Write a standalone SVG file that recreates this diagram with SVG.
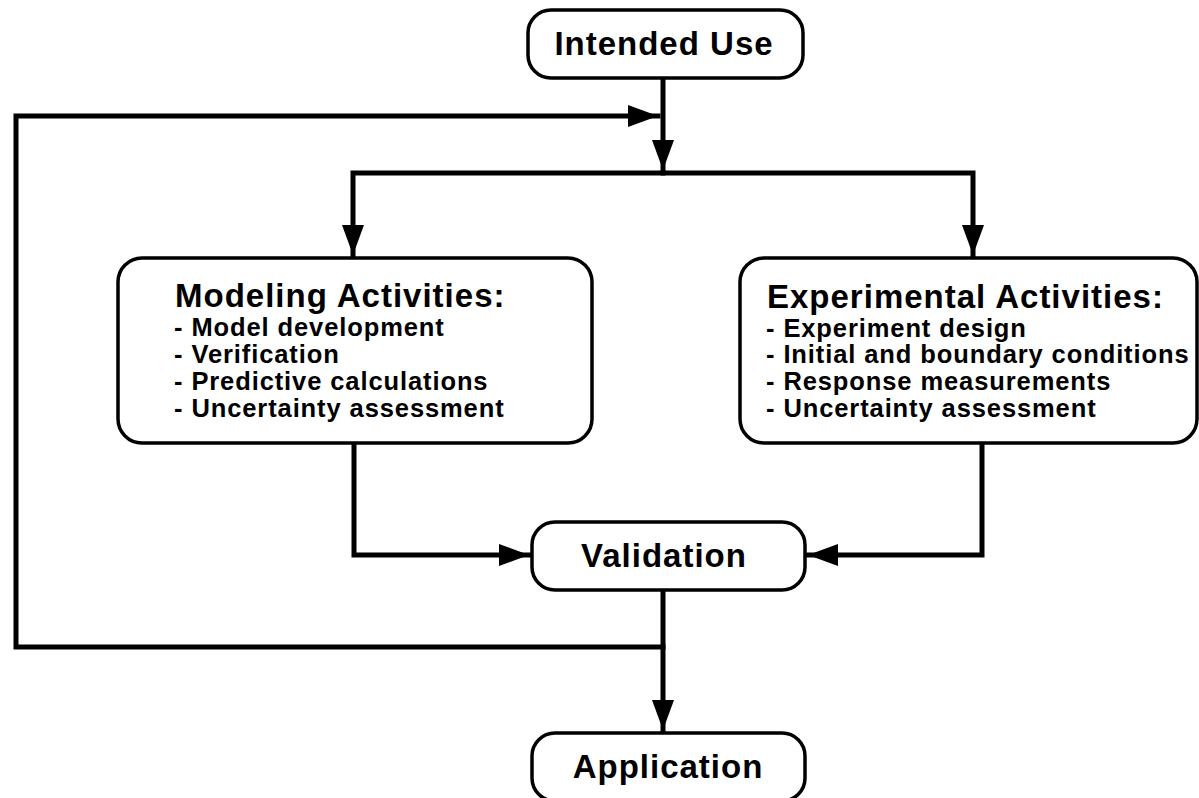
<svg xmlns="http://www.w3.org/2000/svg" width="1199" height="798" viewBox="0 0 1199 798">
<style>
.box{fill:#fff;stroke:#000;stroke-width:3.5}
.con{fill:none;stroke:#000;stroke-width:5;stroke-linejoin:miter;stroke-linecap:square}
.big{font-family:"Liberation Sans",Arial,sans-serif;font-weight:bold;font-size:33px;letter-spacing:1px;fill:#000}
.item{font-family:"Liberation Sans",Arial,sans-serif;font-weight:bold;font-size:25.5px;letter-spacing:0.9px;fill:#000}
</style>
<defs>
<marker id="arr" markerUnits="userSpaceOnUse" markerWidth="32" markerHeight="24" refX="30" refY="11" orient="auto" viewBox="0 0 32 24">
<path d="M0,0 L30,11 L0,22 Z" fill="#000"/>
</marker>
</defs>
<rect width="1199" height="798" fill="#fff"/>
<g id="connectors">
<path class="con" d="M663,79 V170" marker-end="url(#arr)"/>
<path class="con" d="M663,647 H16 V116 H658" marker-end="url(#arr)"/>
<path class="con" d="M663,173 H353 V255" marker-end="url(#arr)"/>
<path class="con" d="M663,173 H973 V255" marker-end="url(#arr)"/>
<path class="con" d="M354,444 V555 H529" marker-end="url(#arr)"/>
<path class="con" d="M982,444 V555 H808" marker-end="url(#arr)"/>
<path class="con" d="M663,592 V730" marker-end="url(#arr)"/>
</g>
<g id="intended-use">
<rect class="box" x="528" y="10" width="275" height="68" rx="23"/>
<text class="big" x="664" y="55" text-anchor="middle">Intended Use</text>
</g>
<g id="modeling">
<rect class="box" x="118" y="258" width="474" height="185" rx="24"/>
<text class="big" x="175" y="307">Modeling Activities:</text>
<text class="item" x="174" y="336">- Model development</text>
<text class="item" x="174" y="363">- Verification</text>
<text class="item" x="174" y="390">- Predictive calculations</text>
<text class="item" x="174" y="417">- Uncertainty assessment</text>
</g>
<g id="experimental">
<rect class="box" x="740" y="258" width="457" height="185" rx="24"/>
<text class="big" x="767" y="308">Experimental Activities:</text>
<text class="item" x="766" y="337">- Experiment design</text>
<text class="item" x="766" y="363">- Initial and boundary conditions</text>
<text class="item" x="766" y="390">- Response measurements</text>
<text class="item" x="766" y="417">- Uncertainty assessment</text>
</g>
<g id="validation">
<rect class="box" x="532" y="522" width="273" height="68" rx="23"/>
<text class="big" x="664" y="567" text-anchor="middle">Validation</text>
</g>
<g id="application">
<rect class="box" x="532" y="733" width="273" height="68" rx="23"/>
<text class="big" x="668" y="778" text-anchor="middle">Application</text>
</g>
</svg>
